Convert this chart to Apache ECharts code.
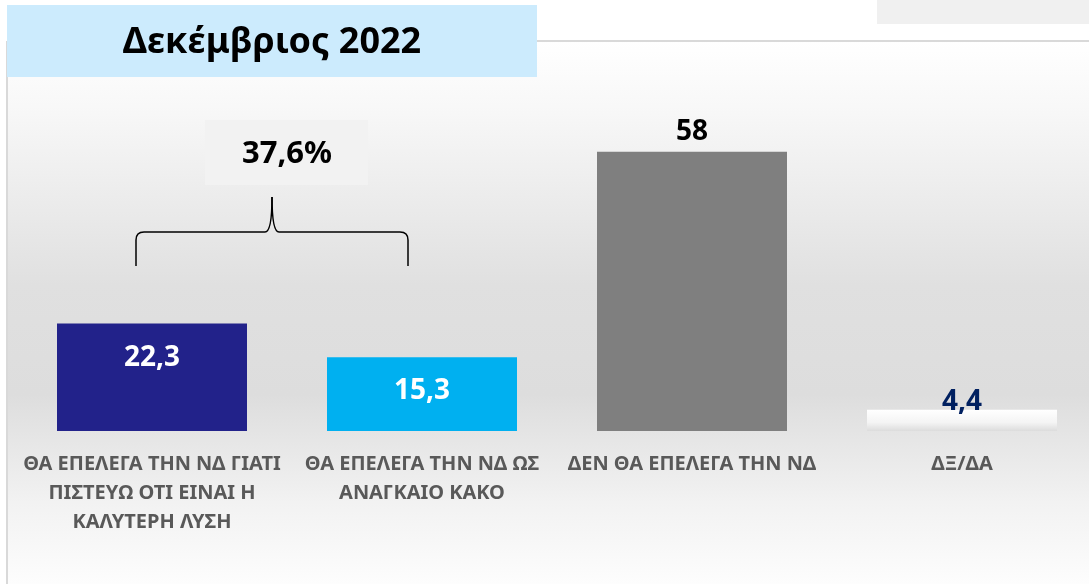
<!DOCTYPE html>
<html>
<head>
<meta charset="utf-8">
<script src="https://cdn.jsdelivr.net/npm/echarts@6/dist/echarts.min.js"></script>
<style>
  html, body { margin: 0; padding: 0; background: #fff; }
  #chart { width: 1089px; height: 584px; }
</style>
</head>
<body>
<div id="chart"></div>
<script>
// categories (line breaks as in the original slide)
var categories = [
  'ΘΑ ΕΠΕΛΕΓΑ ΤΗΝ ΝΔ ΓΙΑΤΙ\nΠΙΣΤΕΥΩ ΟΤΙ ΕΙΝΑΙ Η\nΚΑΛΥΤΕΡΗ ΛΥΣΗ',
  'ΘΑ ΕΠΕΛΕΓΑ ΤΗΝ ΝΔ ΩΣ\nΑΝΑΓΚΑΙΟ ΚΑΚΟ',
  'ΔΕΝ ΘΑ ΕΠΕΛΕΓΑ ΤΗΝ ΝΔ',
  'ΔΞ/ΔΑ'
];
var values = [22.3, 15.3, 58, 4.4];
var title = 'Δεκέμβριος 2022';

var barColors = [
  '#22228a',
  '#00b0f0',
  '#7f7f7f',
  new echarts.graphic.LinearGradient(0, 0, 0, 1, [
    {offset: 0, color: '#ffffff'},
    {offset: 0.6, color: '#f4f4f4'},
    {offset: 1, color: '#dcdcdc'}
  ])
];
var labelStyles = [
  {position: 'insideTop', distance: 20, color: '#ffffff'},
  {position: 'insideTop', distance: 20, color: '#ffffff'},
  {position: 'top', distance: 6, color: '#000000'},
  {position: 'top', distance: -6, color: '#002060'}
];

function fmt(v) {
  return String(v).replace('.', ',');
}

var total = (values[0] + values[1]).toFixed(1).replace('.', ',') + '%';

// brace pieces
var braceStyle = { stroke: '#000', lineWidth: 1.5, fill: 'none' };
var brace = [
    { type: 'line', shape: { x1: 136, y1: 266, x2: 136, y2: 240 } },
    { type: 'bezierCurve', shape: { x1: 136, y1: 240, x2: 144, y2: 232, cpx1: 136, cpy1: 232 } },
    { type: 'line', shape: { x1: 144, y1: 232, x2: 265, y2: 232 } },
    { type: 'bezierCurve', shape: { x1: 265, y1: 232, x2: 272, y2: 197, cpx1: 272, cpy1: 232 } },
    { type: 'bezierCurve', shape: { x1: 272, y1: 197, x2: 279, y2: 232, cpx1: 272, cpy1: 232 } },
    { type: 'line', shape: { x1: 279, y1: 232, x2: 400, y2: 232 } },
    { type: 'bezierCurve', shape: { x1: 400, y1: 232, x2: 408, y2: 240, cpx1: 408, cpy1: 232 } },
    { type: 'line', shape: { x1: 408, y1: 240, x2: 408, y2: 266 } }
].map(function (el) {
    el.silent = true;
    el.style = braceStyle;
    return el;
});

var myChart = echarts.init(document.getElementById('chart'));
var option = {
    animation: false,
    textStyle: { fontFamily: 'Noto Sans' },
    grid: { left: 17, width: 1080, top: 142, bottom: 153, outerBoundsMode: 'none' },
    xAxis: {
        type: 'category',
        data: categories,
        axisLine: { show: false },
        axisTick: { show: false },
        axisLabel: {
            interval: 0,
            margin: 19,
            color: '#595959',
            fontWeight: 'bold',
            fontSize: 20,
            lineHeight: 29,
            fontFamily: 'Noto Sans'
        }
    },
    yAxis: {
        type: 'value',
        min: 0,
        max: 60,
        show: false
    },
    graphic: [
        // panel background
        {
            type: 'rect', z: -10, silent: true,
            shape: { x: 7, y: 41, width: 1082, height: 543 },
            style: {
                fill: new echarts.graphic.LinearGradient(0, 0, 0, 1, [
                    {offset: 0, color: '#ffffff'},
                    {offset: 0.12, color: '#f8f8f8'},
                    {offset: 0.45, color: '#e0e0e0'},
                    {offset: 0.65, color: '#dddddd'},
                    {offset: 0.85, color: '#f2f2f2'},
                    {offset: 1, color: '#fdfdfd'}
                ])
            }
        },
        { type: 'rect', z: -9, silent: true, shape: { x: 6, y: 41, width: 2, height: 543 }, style: { fill: '#d9d9d9' } },
        { type: 'rect', z: -9, silent: true, shape: { x: 537, y: 40, width: 552, height: 2 }, style: { fill: '#d9d9d9' } },
        { type: 'rect', z: -9, silent: true, shape: { x: 877, y: 0, width: 212, height: 24 }, style: { fill: '#f0f0f0' } },
        // title box
        { type: 'rect', z: -5, silent: true, shape: { x: 7, y: 5, width: 530, height: 72 }, style: { fill: '#ccebfd' } },
        {
            type: 'text', silent: true, x: 272, y: 43,
            style: {
                text: title, fontSize: 36, fontWeight: 'bold', fill: '#000',
                fontFamily: 'Noto Sans', align: 'center', verticalAlign: 'middle'
            }
        },
        // total box and brace
        { type: 'rect', silent: true, shape: { x: 205, y: 120, width: 163, height: 65 }, style: { fill: '#f2f2f2' } },
        {
            type: 'text', silent: true, x: 287, y: 154,
            style: {
                text: total, fontSize: 31, fontWeight: 'bold', fill: '#000',
                fontFamily: 'Noto Sans', align: 'center', verticalAlign: 'middle'
            }
        },
        { type: 'group', silent: true, children: brace }
    ],
    series: [{
        type: 'bar',
        barWidth: 190,
        data: values.map(function (v, i) {
            return {
                value: v,
                itemStyle: { color: barColors[i] },
                label: {
                    show: true,
                    position: labelStyles[i].position,
                    distance: labelStyles[i].distance,
                    color: labelStyles[i].color,
                    fontSize: 28,
                    fontWeight: 'bold',
                    fontFamily: 'Noto Sans',
                    formatter: function (p) { return fmt(p.value); }
                }
            };
        })
    }]
};
myChart.setOption(option);
</script>
</body>
</html>
